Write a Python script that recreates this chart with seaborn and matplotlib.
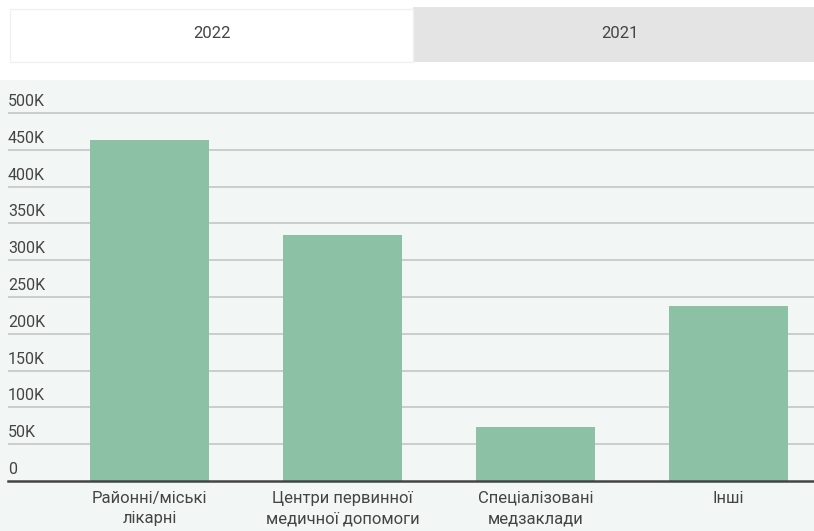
import numpy as np
import pandas as pd
import matplotlib.pyplot as plt
from matplotlib.patches import Rectangle
import matplotlib.transforms as mtransforms
import seaborn as sns

categories = ['Районні/міські\nлікарні', 'Центри первинної\nмедичної допомоги',
              'Спеціалізовані\nмедзаклади', 'Інші']
values = [463000, 334000, 73000, 238000]
yticks = [0, 50000, 100000, 150000, 200000, 250000, 300000, 350000, 400000, 450000, 500000]
ytick_labels = ['0', '50K', '100K', '150K', '200K', '250K', '300K', '350K', '400K', '450K', '500K']
tabs = ['2022', '2021']

sns.set_style('white')
plt.rcParams['font.family'] = ['Roboto', 'DejaVu Sans']

W, H = 814, 531
fig = plt.figure(figsize=(W / 100, H / 100), dpi=100)
fig.patch.set_facecolor('white')

bg = '#f2f7f5'
text_col = '#444444'

def fx(px):
    return px / W

def fy(py):
    return 1 - py / H

# mint background under the tabs
fig.patches.append(Rectangle((0, 0), 1, fy(80), transform=fig.transFigure,
                             facecolor=bg, edgecolor='none', zorder=-2))
# tabs
fig.patches.append(Rectangle((fx(413), fy(62)), fx(814) - fx(413), fy(7) - fy(62),
                             transform=fig.transFigure, facecolor='#e4e4e4',
                             edgecolor='none', zorder=-1))
fig.patches.append(Rectangle((fx(10), fy(62)), fx(413) - fx(10), fy(9) - fy(62),
                             transform=fig.transFigure, facecolor='white',
                             edgecolor='#f0f0f0', lw=1, zorder=-1))
fig.text(fx(212), fy(34), tabs[0], ha='center', va='center', fontsize=12, color=text_col)
fig.text(fx(620), fy(34), tabs[1], ha='center', va='center', fontsize=12, color=text_col)

ax = fig.add_axes([fx(8), fy(481), 1 - fx(8), fy(80) - fy(481)])
ax.set_facecolor(bg)

df = pd.DataFrame({'category': categories, 'value': values})
sns.barplot(data=df, x='category', y='value', color='#8cc1a5', width=0.62,
            saturation=1, edgecolor='none', linewidth=0, ax=ax, zorder=3)

ax.set_ylim(0, 545000)
ax.set_xlim(-0.733, 3.443)
for t in yticks[1:]:
    ax.axhline(t, color='#c6cac8', lw=1.3, zorder=1)

trans = mtransforms.blended_transform_factory(ax.transAxes, ax.transData)
for t, lab in zip(yticks, ytick_labels):
    ax.text(0, t + 5500, lab, transform=trans, ha='left', va='bottom',
            fontsize=11.5, color=text_col)

ax.set_yticks([])
ax.set_xlabel('')
ax.set_ylabel('')
ax.tick_params(axis='x', length=0, pad=7, labelsize=12, labelcolor=text_col)
for lab in ax.get_xticklabels():
    lab.set_linespacing(1.45)
for s in ['top', 'right', 'left']:
    ax.spines[s].set_visible(False)
ax.spines['bottom'].set_color('#444444')
ax.spines['bottom'].set_linewidth(1.8)
ax.spines['bottom'].set_zorder(5)

fig.savefig('out.png', dpi=100, facecolor=fig.get_facecolor())
